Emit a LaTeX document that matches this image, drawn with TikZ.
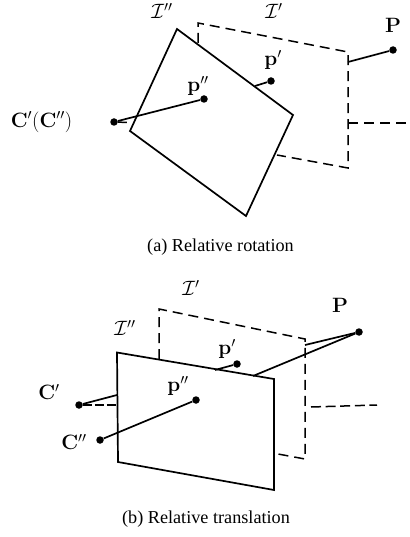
\documentclass[tikz,border=0pt]{standalone}
\usepackage[no-math]{fontspec}
\newfontfamily\capfont{Liberation Serif}
\tikzset{
  x=1pt,y=-1pt,
  solidline/.style={line width=1.7pt,black},
  dashline/.style={line width=1.5pt,black,dash pattern=on 10pt off 6pt},
  dot/.style={circle,fill=black,inner sep=0pt,minimum size=7.5pt},
  lab/.style={inner sep=0pt,font=\fontsize{21.5}{24}\selectfont},
  capt/.style={inner sep=0pt,font=\fontsize{18.2}{20}\selectfont\capfont}
}
\begin{document}
\begin{tikzpicture}
\useasboundingbox (0,0) rectangle (409,537);
% (a) dashed plane
\draw[dashline] (198,43) -- (198,23) -- (348,52) -- (348,168) -- (277,155);
\coordinate (aout) at (348,62);
\coordinate (arayA) at (348,123);
\coordinate (arayB) at (409,123);
\draw[dashline] (arayA) -- (arayB);
% (a) solid plane
\draw[solidline,line join=miter] (177,29) -- (293,115) -- (246,216) -- (130,131) -- cycle;
\node[dot] (aP) at (393,50) {};
\node[dot] (apa) at (271,81) {};
\node[dot] (apb) at (204,99) {};
\node[dot] (aC) at (114,122) {};
\coordinate (aedge) at (255,86);
\coordinate (aCd) at (129,122.5);
\draw[solidline] (aout) -- (aP);
\draw[solidline] (aedge) -- (apa);
\draw[solidline] (aC) -- (apb);
\draw[dashline,dash pattern=on 9pt off 3pt] (aC) -- (aCd);
\node[lab] (aI2) at (162,11) {$\mathcal{I}''$};
\node[lab] (aI1) at (274,11) {$\mathcal{I}'$};
\node[lab] (aPl) at (393,25) {$\mathbf{P}$};
\node[lab] (apal) at (273,60) {$\mathbf{p}'$};
\node[lab] (apbl) at (198,86) {$\mathbf{p}''$};
\node[lab] (aCl) at (41.5,122) {$\mathbf{C}'(\mathbf{C}'')$};
\node[capt] (acap) at (220.5,247) {(a) Relative rotation};
% (b) dashed plane
\draw[dashline] (159,359) -- (159,309) -- (305,339) -- (305,459) -- (278,454);
\coordinate (brayA) at (311,407);
\coordinate (brayB) at (377,405);
\draw[dashline,dash pattern=on 10pt off 4.6pt] (brayA) -- (brayB);
% (b) solid plane
\draw[solidline,line join=miter] (117,352.5) -- (274,379) -- (274,490) -- (118,462) -- cycle;
\node[dot] (bP) at (359,332) {};
\node[dot] (bpa) at (237,364) {};
\node[dot] (bpb) at (196,400) {};
\node[dot] (bC1) at (79,405) {};
\node[dot] (bC2) at (100,440) {};
\coordinate (bout) at (305,345);
\coordinate (bin) at (253,376);
\coordinate (bedge) at (215,370);
\coordinate (bCs) at (117,395);
\coordinate (bCd) at (117,405);
\draw[solidline] (bout) -- (bP);
\draw[solidline] (bin) -- (bP);
\draw[solidline] (bedge) -- (bpa);
\draw[solidline] (bC2) -- (bpb);
\draw[solidline] (bC1) -- (bCs);
\draw[dashline,dash pattern=on 9pt off 3pt] (bC1) -- (bCd);
\node[lab] (bI1) at (191,288) {$\mathcal{I}'$};
\node[lab] (bI2) at (125,328) {$\mathcal{I}''$};
\node[lab] (bPl) at (340,305) {$\mathbf{P}$};
\node[lab] (bpal) at (227,349) {$\mathbf{p}'$};
\node[lab] (bpbl) at (178,386) {$\mathbf{p}''$};
\node[lab] (bC1l) at (49,392) {$\mathbf{C}'$};
\node[lab] (bC2l) at (74,442) {$\mathbf{C}''$};
\node[capt] (bcap) at (206,519) {(b) Relative translation};
\end{tikzpicture}
\end{document}
